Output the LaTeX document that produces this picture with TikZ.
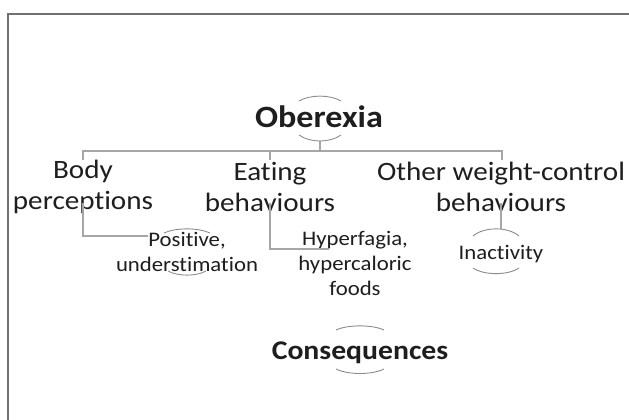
\documentclass[tikz,border=0pt]{standalone}
\usepackage{fontspec}
\setmainfont{Carlito}[FakeStretch=1.1,Ligatures=NoCommon]
\definecolor{txt}{HTML}{1E1E1E}
\definecolor{conn}{HTML}{A6A6A6}
\definecolor{arcc}{HTML}{8C8C8C}
\definecolor{frame}{HTML}{707070}
\begin{document}
\begin{tikzpicture}[x=1pt,y=-1pt,
  toplab/.style={inner sep=0pt,text=txt,font=\fontsize{31}{36}\selectfont\bfseries,anchor=base},
  l2/.style={inner sep=0pt,text=txt,align=center,font=\fontsize{26.5}{31}\selectfont},
  l3/.style={inner sep=0pt,text=txt,align=center,font=\fontsize{20.7}{25}\selectfont},
  link/.style={draw=conn,line width=1.1pt},
  hump/.style={draw=arcc,line width=0.9pt}]
\useasboundingbox (0,0) rectangle (629,420);
\fill[white] (0,0) rectangle (629,420);
\draw[frame,line width=1.5pt] (8,421) -- (8,14) -- (630,14);

% nodes
\node[toplab] (ober) at (319,127) {Oberexia};
\node[l2] (body) at (83,187) {Body\\perceptions};
\node[l2] (eat) at (270,187) {Eating\\behaviours};
\node[l2] (other) at (501,187) {Other weight-control\\behaviours};
\node[l3] (pos) at (187,252) {Positive,\\understimation};
\node[l3] (hyp) at (355,263) {Hyperfagia,\\hypercaloric\\foods};
\node[l3,anchor=base] (inact) at (501,259) {Inactivity};
\node[toplab,font=\fontsize{27}{32}\selectfont\bfseries] (cons) at (360,359) {Consequences};

% coordinates for connectors
\coordinate (obot) at (320,141);
\coordinate (bus) at (320,151);
\coordinate (bodytop) at (83,160);
\coordinate (eattop) at (270,160);
\coordinate (othertop) at (502,160);
\coordinate (bodybot) at (83,203);
\coordinate (posleft) at (148,236);
\coordinate (eatbot) at (270,203);
\coordinate (hypleft) at (329,249);
\coordinate (otherbot) at (501,203);
\coordinate (inacttop) at (501,229);

\draw[link] (obot) -- (bus);
\draw[link] (bodytop) |- (bus) -| (othertop);
\draw[link] (bus) -| (eattop);
\draw[link] (bodybot) |- (posleft);
\draw[link] (eatbot) |- (hypleft);
\draw[link] (otherbot) -- (inacttop);

% elliptical humps
\draw[hump] (299,101) .. controls (310,94.5) and (330,94.5) .. (341,101);
\draw[hump] (299,135) .. controls (310,143) and (330,143) .. (341,135);
\draw[hump] (164,233) .. controls (176,227.5) and (198,227.5) .. (210,233);
\draw[hump] (168,271) .. controls (178,276.5) and (196,276.5) .. (206,271);
\draw[hump] (473,236) .. controls (484,226.5) and (508,226.5) .. (519,236);
\draw[hump] (473,268) .. controls (484,275.5) and (508,275.5) .. (519,268);
\draw[hump] (336,330) .. controls (348,324.5) and (372,324.5) .. (384,330);
\draw[hump] (336,369) .. controls (348,375) and (372,375) .. (384,369);
\end{tikzpicture}
\end{document}
